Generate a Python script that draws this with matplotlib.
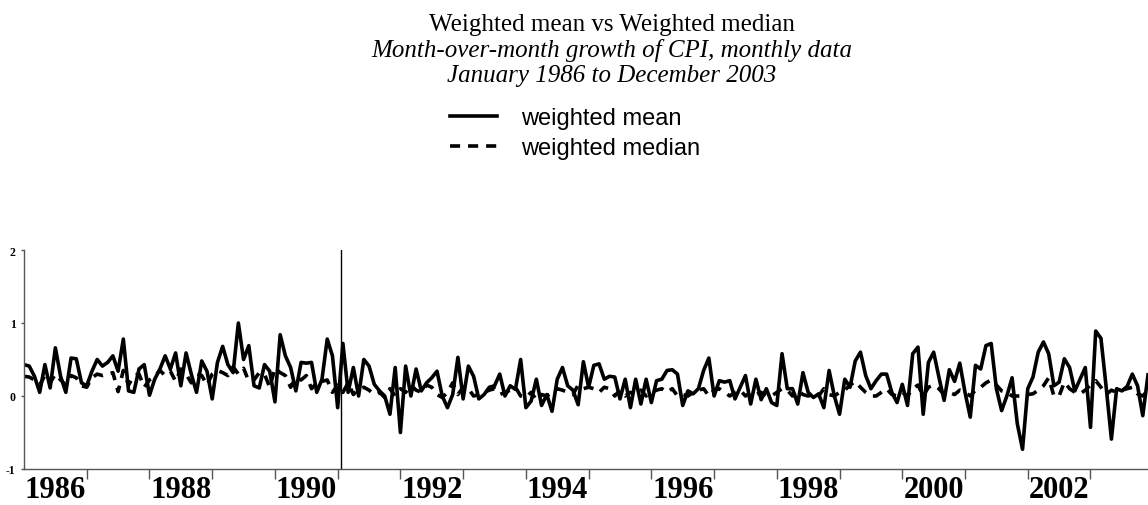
import matplotlib
matplotlib.use("Agg")
from matplotlib import pyplot as plt
import numpy as np

# monthly data, January 1986 to December 2003 (one row per year)
weighted_mean = [
    0.43, 0.41, 0.27, 0.05, 0.43, 0.11, 0.66, 0.27, 0.05, 0.52, 0.51, 0.18,
    0.14, 0.34, 0.50, 0.41, 0.46, 0.55, 0.34, 0.78, 0.07, 0.05, 0.37, 0.43,
    0.01, 0.23, 0.37, 0.55, 0.37, 0.59, 0.14, 0.59, 0.30, 0.05, 0.48, 0.34,
    -0.04, 0.46, 0.68, 0.43, 0.32, 1.00, 0.50, 0.69, 0.14, 0.11, 0.43, 0.34,
    -0.08, 0.84, 0.55, 0.39, 0.07, 0.46, 0.45, 0.46, 0.05, 0.23, 0.78, 0.55,
    -0.16, 0.72, 0.05, 0.39, 0.00, 0.50, 0.41, 0.16, 0.07, 0.00, -0.25, 0.39,
    -0.50, 0.41, 0.00, 0.37, 0.07, 0.18, 0.25, 0.34, 0.00, -0.16, 0.02, 0.53,
    -0.04, 0.41, 0.27, -0.04, 0.02, 0.12, 0.14, 0.30, 0.00, 0.14, 0.09, 0.50,
    -0.16, -0.07, 0.23, -0.13, 0.02, -0.21, 0.23, 0.39, 0.14, 0.08, -0.12, 0.47,
    0.12, 0.42, 0.44, 0.23, 0.27, 0.26, -0.04, 0.23, -0.16, 0.23, -0.11, 0.23,
    -0.09, 0.21, 0.23, 0.35, 0.36, 0.30, -0.13, 0.07, 0.03, 0.10, 0.35, 0.52,
    0.00, 0.21, 0.19, 0.21, -0.04, 0.12, 0.28, -0.11, 0.23, -0.05, 0.10, -0.09,
    -0.13, 0.58, 0.10, 0.10, -0.11, 0.32, 0.05, -0.02, 0.03, -0.16, 0.35, 0.00,
    -0.25, 0.23, 0.12, 0.48, 0.60, 0.28, 0.10, 0.21, 0.30, 0.30, 0.05, -0.09,
    0.16, -0.13, 0.58, 0.67, -0.25, 0.46, 0.60, 0.26, -0.06, 0.36, 0.20, 0.45,
    0.05, -0.29, 0.42, 0.37, 0.69, 0.72, 0.10, -0.20, 0.00, 0.25, -0.38, -0.73,
    0.10, 0.26, 0.60, 0.74, 0.58, 0.14, 0.19, 0.51, 0.39, 0.07, 0.23, 0.39,
    -0.43, 0.89, 0.79, 0.12, -0.59, 0.10, 0.07, 0.13, 0.30, 0.14, -0.27, 0.29,
]

weighted_median = [
    0.27, 0.26, 0.22, 0.15, 0.28, 0.18, 0.30, 0.22, 0.15, 0.28, 0.25, 0.14,
    0.12, 0.25, 0.30, 0.28, 0.30, 0.32, 0.06, 0.35, 0.15, 0.28, 0.30, 0.12,
    0.22, 0.27, 0.35, 0.28, 0.34, 0.20, 0.37, 0.30, 0.18, 0.30, 0.28, 0.15,
    0.30, 0.35, 0.32, 0.28, 0.40, 0.30, 0.38, 0.20, 0.22, 0.32, 0.30, 0.12,
    0.38, 0.32, 0.28, 0.12, 0.25, 0.22, 0.28, 0.10, 0.18, 0.20, 0.22, 0.05,
    0.15, 0.05, 0.18, 0.02, 0.10, 0.12, 0.08, 0.02, 0.05, -0.02, 0.10, 0.00,
    0.10, 0.05, 0.15, 0.08, 0.05, 0.15, 0.12, 0.02, -0.02, 0.05, 0.18, 0.02,
    0.12, 0.10, 0.00, 0.02, 0.05, 0.08, 0.10, 0.02, 0.05, 0.08, 0.12, 0.00,
    -0.02, 0.05, -0.05, 0.02, 0.00, 0.05, 0.10, 0.08, 0.05, 0.02, 0.15, 0.10,
    0.12, 0.10, 0.05, 0.12, 0.10, 0.00, 0.08, 0.00, 0.05, 0.02, 0.08, 0.00,
    0.05, 0.08, 0.10, 0.05, 0.10, 0.00, 0.02, 0.00, 0.05, 0.08, 0.10, 0.00,
    0.08, 0.10, 0.05, 0.00, 0.05, 0.08, 0.00, 0.05, 0.02, 0.05, 0.00, 0.00,
    0.05, 0.10, 0.08, 0.00, 0.08, 0.02, 0.00, 0.02, 0.00, 0.10, 0.02, 0.00,
    0.05, 0.08, 0.15, 0.20, 0.12, 0.05, 0.00, 0.00, 0.05, 0.10, 0.02, 0.00,
    0.05, 0.00, 0.10, 0.15, 0.00, 0.12, 0.15, 0.10, 0.02, 0.05, 0.02, 0.08,
    0.05, 0.00, 0.08, 0.12, 0.18, 0.22, 0.15, 0.07, 0.05, 0.00, 0.00, 0.00,
    0.02, 0.03, 0.08, 0.14, 0.25, 0.00, 0.00, 0.19, 0.10, 0.05, 0.03, 0.08,
    0.15, 0.21, 0.12, 0.02, 0.08, 0.05, 0.08, 0.10, 0.12, 0.03, 0.00, 0.08,
]

years = list(range(1986, 2004))
label_years = [1986, 1988, 1990, 1992, 1994, 1996, 1998, 2000, 2002]
gst_month = 60.6  # Jan 1991, marked by the vertical line

months = np.arange(len(weighted_mean))
serif = "Liberation Serif"

fig = plt.figure(figsize=(11.48, 5.06), dpi=100)
ax = fig.add_axes([24 / 1148, 36 / 506, 1124 / 1148, 219 / 506])

med_line, = ax.plot(months, weighted_median, color="black", lw=2.6,
                    dashes=(2.8, 2.2), label="weighted median")
mean_line, = ax.plot(months, weighted_mean, color="black", lw=2.6,
                     label="weighted mean")
ax.axvline(gst_month, color="black", lw=1)

ax.set_xlim(0, len(weighted_mean) - 1)
ax.set_ylim(-1, 2)

for side in ["top", "right"]:
    ax.spines[side].set_visible(False)
for side in ["left", "bottom"]:
    ax.spines[side].set_color("#555555")
    ax.spines[side].set_linewidth(1)

# year boundaries as ticks, labels centred in the year
ax.set_xticks([12 * (y - 1986) for y in years[1:]])
ax.set_xticklabels([])
ax.set_xticks([12 * (y - 1986) + 6 for y in label_years], minor=True)
ax.set_xticklabels([str(y) for y in label_years], minor=True,
                   fontfamily=serif, fontweight="bold", fontsize=22)
ax.tick_params(axis="x", which="major", length=7, color="#555555", width=1)
ax.tick_params(axis="x", which="minor", length=0, pad=4)

ax.set_yticks([-1, 0, 1, 2])
ax.set_yticklabels(["-1", "0", "1", "2"], fontfamily=serif,
                   fontweight="bold", fontsize=8.5)
ax.tick_params(axis="y", length=2, color="#555555", width=1, pad=4)

# title block
cx = 612 / 1148
fig.text(cx, 1 - 31 / 506, "Weighted mean vs Weighted median",
         ha="center", va="baseline", fontsize=18, fontfamily=serif)
fig.text(cx, 1 - 57 / 506, "Month-over-month growth of CPI, monthly data",
         ha="center", va="baseline", fontsize=18, fontfamily=serif,
         style="italic")
fig.text(cx, 1 - 82 / 506, "January 1986 to December 2003",
         ha="center", va="baseline", fontsize=18, fontfamily=serif,
         style="italic")

fig.legend(handles=[mean_line, med_line], loc="upper left",
           bbox_to_anchor=(450 / 1148, 1 - 108 / 506), frameon=False,
           prop={"family": "Liberation Sans", "size": 17},
           handlelength=2.0, handletextpad=1.0, labelspacing=0.33,
           borderpad=0, borderaxespad=0)

fig.savefig("out.png", dpi=100)
